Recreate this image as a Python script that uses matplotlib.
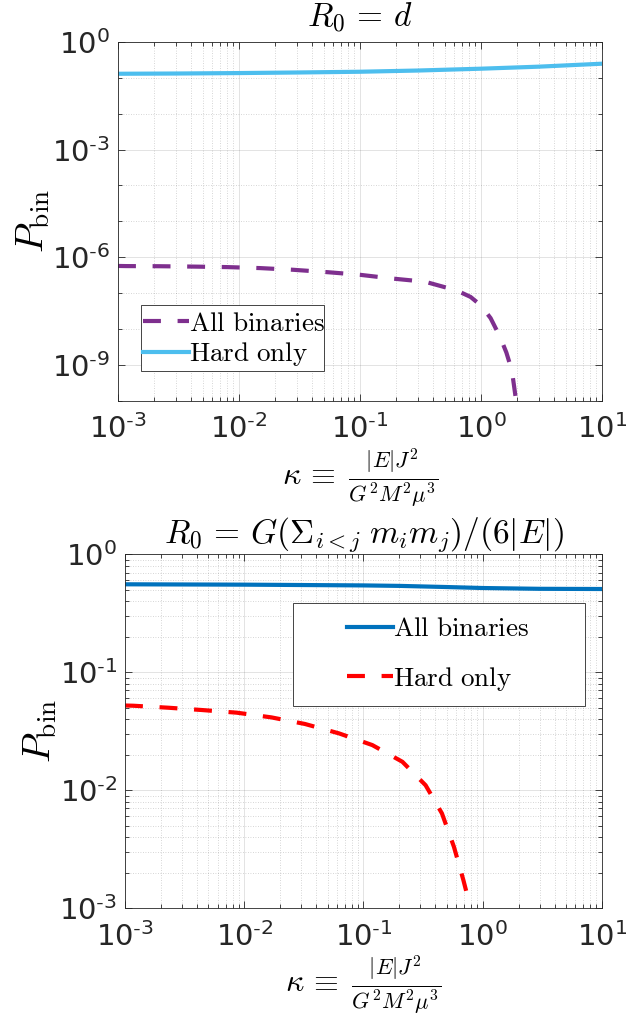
import numpy as np
import matplotlib
matplotlib.use("Agg")
import matplotlib.pyplot as plt
from matplotlib.ticker import LogLocator, FuncFormatter, NullFormatter
from matplotlib.patches import Rectangle

plt.rcParams['mathtext.fontset'] = 'cm'
plt.rcParams['font.family'] = ['DejaVu Sans']

# ---------------- data ----------------
# Top panel: R0 = d
kappa_top_all = [1e-3, 1.17e-3, 2.21e-3, 4.18e-3, 7.9e-3, 0.0149, 0.028, 0.053, 0.1,
                 0.183, 0.345, 0.63, 0.82, 1.0, 1.2, 1.44, 1.62, 1.80, 1.95, 2.0]
p_top_all = [5.7e-7, 5.65e-7, 5.6e-7, 5.47e-7, 5.3e-7, 4.97e-7, 4.46e-7, 3.84e-7, 3.23e-7,
             2.55e-7, 2.07e-7, 1.18e-7, 7.8e-8, 4.5e-8, 2.0e-8, 5.9e-9, 2.2e-9, 6.9e-10,
             1.0e-10, 3.0e-11]

kappa_top_hard = [1e-3, 3e-3, 1e-2, 3e-2, 0.1, 0.3, 1.0, 3.0, 10.0]
p_top_hard = [0.130, 0.132, 0.136, 0.141, 0.148, 0.160, 0.180, 0.205, 0.248]

# Bottom panel: R0 = G(sum m_i m_j)/(6|E|)
kappa_bot_all = [1e-3, 1e-2, 0.1, 0.2, 0.5, 1.0, 3.0, 10.0]
p_bot_all = [0.557, 0.553, 0.545, 0.540, 0.528, 0.518, 0.510, 0.508]

kappa_bot_hard = [1e-3, 1.17e-3, 2.31e-3, 4.42e-3, 8.64e-3, 0.0169, 0.0323, 0.0623,
                  0.1187, 0.212, 0.332, 0.455, 0.574, 0.688, 0.73]
p_bot_hard = [0.0522, 0.052, 0.050, 0.0478, 0.0454, 0.0414, 0.0364, 0.0303,
              0.0241, 0.0174, 0.0110, 0.00635, 0.0033, 0.00173, 0.00137]

labels = ['All binaries', 'Hard only']
xticks = [1e-3, 1e-2, 1e-1, 1e0, 1e1]
yticks_top = [1e-9, 1e-6, 1e-3, 1e0]
yticks_bot = [1e-3, 1e-2, 1e-1, 1e0]

# ---------------- style ----------------
TXT = '#262626'
TICKFS = 21
LABFS = 23
YLABFS = 28
TITLEFS = 24
LEGFS = 19.5
LW = 3.0
DASH = (4.3, 4.0)
XLABEL = r'$\kappa \,\equiv\; \frac{|E|J^2}{G^2M^2\mu^3}$'


def pow_fmt(v, pos):
    e = int(round(np.log10(v)))
    if e < 0:
        return r'$\mathregular{10^{\text{-}%d}}$' % (-e)
    return r'$\mathregular{10^{%d}}$' % e


def style_axes(ax, yticks, yminor_subs):
    ax.set_xscale('log')
    ax.set_yscale('log')
    ax.set_xticks(xticks)
    ax.xaxis.set_minor_locator(LogLocator(base=10, subs=np.arange(2, 10), numticks=50))
    ax.set_yticks(yticks)
    ax.yaxis.set_minor_locator(LogLocator(base=10, subs=yminor_subs, numticks=50))
    ax.xaxis.set_major_formatter(FuncFormatter(pow_fmt))
    ax.yaxis.set_major_formatter(FuncFormatter(pow_fmt))
    ax.xaxis.set_minor_formatter(NullFormatter())
    ax.yaxis.set_minor_formatter(NullFormatter())
    ax.tick_params(which='both', direction='in', top=True, right=True,
                   colors=TXT, labelsize=TICKFS, width=0.6)
    ax.tick_params(which='major', length=5)
    ax.tick_params(which='minor', length=3)
    ax.tick_params(axis='x', pad=10)
    ax.tick_params(axis='y', pad=6)
    for s in ax.spines.values():
        s.set_color(TXT)
        s.set_linewidth(0.6)
    ax.grid(True, which='major', color=TXT, alpha=0.15, lw=0.6, ls='-')
    ax.grid(True, which='minor', color=TXT, alpha=0.25, lw=0.6, ls=(0, (1, 2)))
    ax.set_axisbelow(True)
    ax.set_xlim(1e-3, 1e1)


fig = plt.figure(figsize=(6.29, 10.19), dpi=100)

# ---------------- top panel ----------------
ax1 = fig.add_axes([0.1876, 0.6068, 0.7695, 0.352])
style_axes(ax1, yticks_top, (1.0,))
ax1.set_ylim(1e-10, 1e0)
l1, = ax1.plot(kappa_top_all, p_top_all, color='#7E2F8E', lw=LW, dashes=DASH,
               label=labels[0])
l2, = ax1.plot(kappa_top_hard, p_top_hard, color='#4DBEEE', lw=LW, ls='-',
               label=labels[1])
ax1.set_title(r'$R_0 \,=\, d$', fontsize=TITLEFS, pad=11.5, color='k')
ax1.set_xlabel(XLABEL, fontsize=LABFS, labelpad=1)
ax1.set_ylabel(r'$P_\mathrm{bin}$', fontsize=YLABFS, labelpad=0)
ax1.add_patch(Rectangle((0.0475, 0.0828), 0.378, 0.184, transform=ax1.transAxes,
                        facecolor='white', edgecolor=TXT, lw=0.6, zorder=5))
leg1 = ax1.legend(handles=[l1, l2],
                  labels=[r'$\mathrm{All\ binaries}$', r'$\mathrm{Hard\ only}$'],
                  loc='center left', bbox_to_anchor=(0.0517, 0.171),
                  frameon=False, fontsize=LEGFS, borderpad=0, borderaxespad=0,
                  handlelength=1.7, handletextpad=0.0, labelspacing=0.13)
leg1.set_zorder(6)

# ---------------- bottom panel ----------------
ax2 = fig.add_axes([0.1987, 0.1089, 0.7583, 0.3471])
style_axes(ax2, yticks_bot, np.arange(2, 10))
ax2.set_ylim(1e-3, 1e0)
m1, = ax2.plot(kappa_bot_all, p_bot_all, color='#0072BD', lw=LW, ls='-',
               label=labels[0])
m2, = ax2.plot(kappa_bot_hard, p_bot_hard, color='#FF0000', lw=LW, dashes=DASH,
               label=labels[1])
ax2.set_title(r'$R_0 \,=\, G(\Sigma_{i<j}\; m_i m_j)/(6|E|)$', fontsize=TITLEFS,
              pad=6, color='k')
ax2.set_xlabel(XLABEL, fontsize=LABFS, labelpad=1)
ax2.set_ylabel(r'$P_\mathrm{bin}$', fontsize=YLABFS, labelpad=0)
ax2.add_patch(Rectangle((0.352, 0.571), 0.612, 0.291, transform=ax2.transAxes,
                        facecolor='white', edgecolor=TXT, lw=0.6, zorder=5))
leg2 = ax2.legend(handles=[m1, m2],
                  labels=[r'$\mathrm{All\ binaries}$', r'$\mathrm{Hard\ only}$'],
                  loc='center left', bbox_to_anchor=(0.465, 0.717),
                  frameon=False, fontsize=LEGFS, borderpad=0, borderaxespad=0,
                  handlelength=1.7, handletextpad=0.0, labelspacing=0.82)
leg2.set_zorder(6)

fig.savefig('out.png', dpi=100)
